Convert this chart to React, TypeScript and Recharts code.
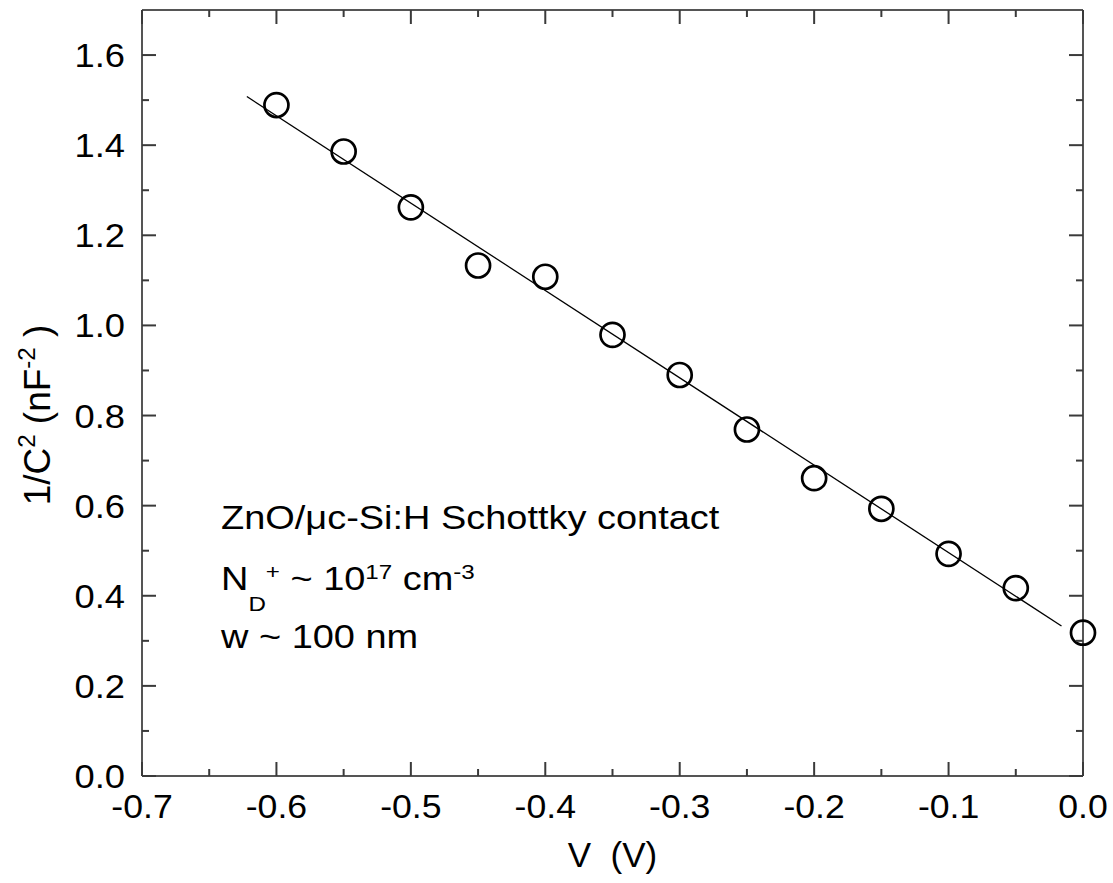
import React from 'react';
import { ScatterChart, Scatter, XAxis, YAxis, ReferenceLine, Label } from 'recharts';

// Measured data: reverse bias voltage V (V) vs 1/C^2 (nF^-2)
const voltage = [-0.6, -0.55, -0.5, -0.45, -0.4, -0.35, -0.3, -0.25, -0.2, -0.15, -0.1, -0.05, 0.0];
const invC2 = [1.489, 1.386, 1.262, 1.133, 1.108, 0.979, 0.89, 0.769, 0.661, 0.593, 0.493, 0.417, 0.318];

// Linear fit line end points
const fitV = [-0.622, -0.016];
const fitInvC2 = [1.508, 0.333];

// Axis ticks (majors labelled, minors unlabeled)
const xTicks = [-0.7, -0.65, -0.6, -0.55, -0.5, -0.45, -0.4, -0.35, -0.3, -0.25, -0.2, -0.15, -0.1, -0.05, 0.0];
const yTicks = [0, 0.1, 0.2, 0.3, 0.4, 0.5, 0.6, 0.7, 0.8, 0.9, 1.0, 1.1, 1.2, 1.3, 1.4, 1.5, 1.6];
const xDomain = [-0.7, 0];
const yDomain = [0, 1.7];

const points = voltage.map((v, i) => ({ v, c: invC2[i] }));

const FONT = '"Liberation Sans", Arial, Helvetica, sans-serif';
const FRAME = '#555555';
const TICK = '#3a3a3a';
const MAJOR = 14;
const MINOR = 7;

const isMajorX = (v: number) => Math.abs(v * 10 - Math.round(v * 10)) < 1e-6;
const isMajorY = (v: number) => Math.abs(v * 10 - Math.round(v * 10)) < 1e-6 && Math.round(v * 10) % 2 === 0;

function BottomTick(props: any) {
  const { x, y, payload } = props;
  const v = payload.value as number;
  const major = isMajorX(v);
  return (
    <g>
      <line x1={x} x2={x} y1={y} y2={y - (major ? MAJOR : MINOR)} stroke={TICK} strokeWidth={2} />
      {major && (
        <text
          x={0}
          y={0}
          transform={`translate(${x}, ${y + 42}) scale(1.08, 1)`}
          textAnchor="middle"
          fontSize={33}
          fontFamily={FONT}
          fill="#000"
        >
          {Math.abs(v) < 1e-9 ? '0.0' : v.toFixed(1)}
        </text>
      )}
    </g>
  );
}

function TopTick(props: any) {
  const { x, y, payload } = props;
  const major = isMajorX(payload.value);
  return <line x1={x} x2={x} y1={y} y2={y + (major ? MAJOR : MINOR)} stroke={TICK} strokeWidth={2} />;
}

function LeftTick(props: any) {
  const { x, y, payload } = props;
  const v = payload.value as number;
  const major = isMajorY(v);
  return (
    <g>
      <line x1={x} x2={x + (major ? MAJOR : MINOR)} y1={y} y2={y} stroke={TICK} strokeWidth={2} />
      {major && (
        <text
          x={0}
          y={0}
          transform={`translate(${x - 17}, ${y + 12}) scale(1.1, 1)`}
          textAnchor="end"
          fontSize={33}
          fontFamily={FONT}
          fill="#000"
        >
          {v.toFixed(1)}
        </text>
      )}
    </g>
  );
}

function RightTick(props: any) {
  const { x, y, payload } = props;
  const major = isMajorY(payload.value);
  return <line x1={x} x2={x - (major ? MAJOR : MINOR)} y1={y} y2={y} stroke={TICK} strokeWidth={2} />;
}

function XTitle(props: any) {
  const vb = props.viewBox || {};
  const cx = vb.x + vb.width / 2;
  return (
    <text x={cx} y={vb.y + 91} textAnchor="middle" fontSize={35} fontFamily={FONT} fill="#000" style={{ whiteSpace: 'pre' }}>
      {'V  (V)'}
    </text>
  );
}

function YTitle(props: any) {
  const vb = props.viewBox || {};
  const cx = 50;
  const cy = vb.y + vb.height / 2 + 22;
  return (
    <text
      x={cx}
      y={cy}
      textAnchor="middle"
      fontSize={37}
      fontFamily={FONT}
      fill="#000"
      transform={`rotate(-90, ${cx}, ${cy})`}
      style={{ whiteSpace: 'pre' }}
    >
      <tspan>1/C</tspan>
      <tspan fontSize={24} dy={-15}>2</tspan>
      <tspan dy={15}>{' (nF'}</tspan>
      <tspan fontSize={24} dy={-15}>-2</tspan>
      <tspan dy={15}>{' )'}</tspan>
    </text>
  );
}

function Annotations() {
  const x = 221;
  const s = 1.15;
  return (
    <g fontFamily={FONT} fill="#000">
      <text x={0} y={0} transform={`translate(${x}, 529) scale(${s}, 1)`} fontSize={33}>
        ZnO/μc-Si:H Schottky contact
      </text>
      <text x={0} y={0} transform={`translate(${x}, 590) scale(${s}, 1)`} fontSize={33} style={{ whiteSpace: 'pre' }}>
        <tspan>N</tspan>
        <tspan fontSize={21} dy={21}>D</tspan>
        <tspan fontSize={21} dy={-32}>+</tspan>
        <tspan dy={11}>{' ~ 10'}</tspan>
        <tspan fontSize={21} dy={-11}>17</tspan>
        <tspan dy={11}>{' cm'}</tspan>
        <tspan fontSize={21} dy={-11}>-3</tspan>
      </text>
      <text x={0} y={0} transform={`translate(${x}, 648) scale(${s}, 1)`} fontSize={33}>
        w ~ 100 nm
      </text>
    </g>
  );
}

function Marker(props: any) {
  const { cx, cy } = props;
  return <circle cx={cx} cy={cy} r={12} fill="none" stroke="#000" strokeWidth={2.7} />;
}

function NoMarker() {
  return <g />;
}

export default function App() {
  return (
    <div style={{ position: 'absolute', left: 0, top: 0, background: '#fff' }}>
      <ScatterChart width={1113} height={883} margin={{ top: 9, right: 29, bottom: 47, left: 42 }}>
        <XAxis
          xAxisId={0}
          type="number"
          dataKey="v"
          domain={xDomain}
          ticks={xTicks}
          interval={0}
          height={60}
          tickSize={0}
          tickMargin={0}
          tickLine={false}
          axisLine={{ stroke: FRAME, strokeWidth: 2 }}
          tick={<BottomTick />}
        >
          <Label content={<XTitle />} />
        </XAxis>
        <XAxis
          xAxisId="top"
          orientation="top"
          type="number"
          dataKey="v"
          domain={xDomain}
          ticks={xTicks}
          interval={0}
          height={1}
          tickSize={0}
          tickMargin={0}
          tickLine={false}
          axisLine={{ stroke: FRAME, strokeWidth: 2 }}
          tick={<TopTick />}
        />
        <YAxis
          yAxisId={0}
          type="number"
          dataKey="c"
          domain={yDomain}
          ticks={yTicks}
          interval={0}
          width={100}
          tickSize={0}
          tickMargin={0}
          tickLine={false}
          axisLine={{ stroke: FRAME, strokeWidth: 2 }}
          tick={<LeftTick />}
        >
          <Label content={<YTitle />} />
        </YAxis>
        <YAxis
          yAxisId="right"
          orientation="right"
          type="number"
          dataKey="c"
          domain={yDomain}
          ticks={yTicks}
          interval={0}
          width={1}
          tickSize={0}
          tickMargin={0}
          tickLine={false}
          axisLine={{ stroke: FRAME, strokeWidth: 2 }}
          tick={<RightTick />}
        />
        <ReferenceLine
          xAxisId={0}
          yAxisId={0}
          segment={[
            { x: fitV[0], y: fitInvC2[0] },
            { x: fitV[1], y: fitInvC2[1] },
          ]}
          stroke="#000"
          strokeWidth={1.3}
          ifOverflow="visible"
        />
        <Scatter
          xAxisId="top"
          yAxisId="right"
          data={points}
          shape={<NoMarker />}
          isAnimationActive={false}
        />
        <Scatter
          xAxisId={0}
          yAxisId={0}
          data={points}
          shape={<Marker />}
          isAnimationActive={false}
        />
        <Annotations />
      </ScatterChart>
    </div>
  );
}
